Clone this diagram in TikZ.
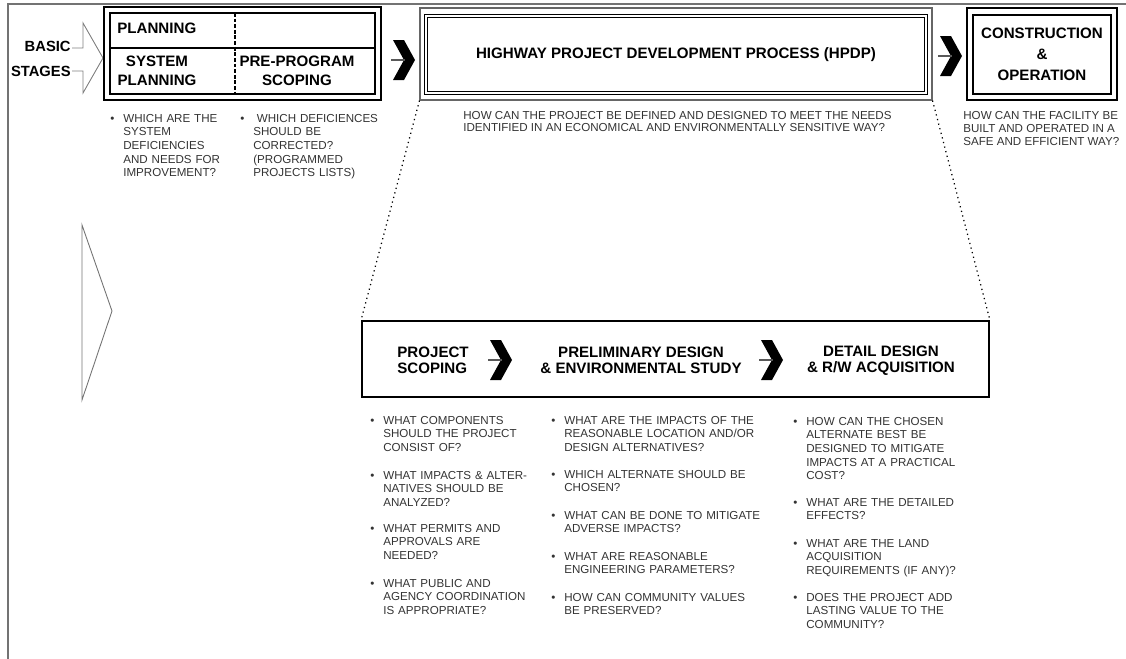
\documentclass[tikz,border=0pt]{standalone}
\usepackage{fontspec}
\setmainfont{Liberation Sans}

\definecolor{qgray}{HTML}{333333}
\definecolor{fgray}{HTML}{7A7A7A}

\newcommand\headfont{\fontsize{8.6}{10.8}\selectfont\bfseries}
\newcommand\stagefont{\fontsize{8.6}{9.1}\selectfont\bfseries}
\newcommand\qfont{\fontsize{6.6}{7.7}\selectfont}
\newcommand\subfont{\fontsize{6.6}{6.9}\selectfont}
\newcommand\qmark{\makebox[7.4pt][l]{\textbullet}}

\tikzset{
	frame/.style={draw=black!55, line width=1pt},
	head/.style={font=\headfont, align=center, inner sep=0pt},
	stage/.style={font=\stagefont, align=center, inner sep=0pt},
	sub/.style={font=\subfont, text=qgray, align=left, anchor=north west, inner sep=0pt},
	qitem/.style={anchor=north west, inner sep=0pt, text width=4.6cm, align=left,
		font=\qfont, text=qgray,
		execute at begin node={\hangindent=7.4pt\hangafter=1\qmark}},
	chev/.pic={
		\fill (-11,-20) -- (0,-20) -- (11,0) -- (0,20) -- (-11,20) -- (0,0) -- cycle;
		\draw[black!65, line width=0.6pt] (-13,0) -- (1,0);
	}
}

\begin{document}
\begin{tikzpicture}[x=0.02cm, y=-0.02cm]
	\useasboundingbox (0,0) rectangle (1126,659);

	% frame
	\draw[frame] (8,659) -- (8,4) -- (1126,4);

	% basic stages
	\node[font=\fontsize{8.4}{9.4}\selectfont\bfseries, align=right, anchor=east, inner sep=0pt] (basic) at (71,59) {BASIC\\[5pt]STAGES};
	\draw[black!50, line width=0.5pt] (72,48) -- (83,48) -- (83,23) -- (103,58) -- (83,93) -- (83,71) -- (72,71);

	% planning
	\node[draw, line width=1.4pt, minimum width=5.54cm, minimum height=1.86cm] (plan) at (242.5,53.5) {};
	\node[draw, line width=1pt, minimum width=5.3cm, minimum height=1.62cm] (planin) at (242.5,53.5) {};
	\draw[line width=0.9pt] (110,48) -- (375,48);
	\draw[line width=0.9pt, dash pattern=on 2.2pt off 1pt] (235,13) -- (235,94);
	\node[head, anchor=west] (plnhead) at (117,28) {PLANNING};
	\node[head] (sysplan) at (157,70.5) {SYSTEM\\PLANNING};
	\node[head] (prescop) at (297,70.5) {PRE-PROGRAM\\SCOPING};

	\node[qitem] (qsys) at (110,114) {WHICH ARE THE\newline SYSTEM\newline DEFICIENCIES\newline AND NEEDS FOR\newline IMPROVEMENT?};
	\node[qitem] (qpre) at (240,114) {\hspace{2pt}WHICH DEFICIENCES\newline SHOULD BE\newline CORRECTED?\newline (PROGRAMMED\newline PROJECTS LISTS)};

	\pic at (404,60) {chev};

	% hpdp
	\node[draw=black!60, line width=0.7pt, minimum width=10.24cm, minimum height=1.84cm] (hpdp) at (676,54) {};
	\node[draw, double, double distance=1.1pt, line width=0.5pt, minimum width=10cm, minimum height=1.54cm] (hpdpin) at (676,54.5) {};
	\node[head] (hpdptxt) at (676,55) {HIGHWAY PROJECT DEVELOPMENT PROCESS (HPDP)};
	\node[sub] (hpdpq) at (463,111) {HOW CAN THE PROJECT BE DEFINED AND DESIGNED TO MEET THE NEEDS\\IDENTIFIED IN AN ECONOMICAL AND ENVIRONMENTALLY SENSITIVE WAY?};

	\pic at (951,56) {chev};

	% construction
	\node[draw, line width=1.1pt, minimum width=3cm, minimum height=1.84cm] (cons) at (1042,54) {};
	\node[draw, line width=1.2pt, minimum width=2.76cm, minimum height=1.58cm] (consin) at (1042,54.5) {};
	\node[head] (constxt) at (1042,54) {CONSTRUCTION\\[1.1pt]\&\\[1.1pt]OPERATION};
	\node[sub, font=\fontsize{6.6}{7.4}\selectfont] (consq) at (963,111) {HOW CAN THE FACILITY BE\\BUILT AND OPERATED IN A\\SAFE AND EFFICIENT WAY?};

	% left marker
	\draw[black!55, line width=0.5pt] (82,225) -- (112,311) -- (82,400) -- cycle;

	% hpdp stages
	\node[draw, line width=1.1pt, minimum width=12.54cm, minimum height=1.52cm] (pdbox) at (675.5,359) {};
	\draw[dotted, line width=0.7pt] (hpdp.south west) -- (pdbox.north west);
	\draw[dotted, line width=0.7pt] (hpdp.south east) -- (pdbox.north east);

	\node[stage, align=left, anchor=west] (scop) at (397,360) {PROJECT\\SCOPING};
	\node[stage] (prel) at (641,360) {PRELIMINARY DESIGN\\\& ENVIRONMENTAL STUDY};
	\node[stage] (detl) at (881,361) {DETAIL DESIGN\\\& R/W ACQUISITION};
	\pic at (501,360) {chev};
	\pic at (772,360) {chev};

	% questions
	\node[qitem] (qs1) at (370,416) {WHAT COMPONENTS\newline SHOULD THE PROJECT\newline CONSIST OF?};
	\node[qitem] (qs2) at (370,471) {WHAT IMPACTS \& ALTER-\newline NATIVES SHOULD BE\newline ANALYZED?};
	\node[qitem] (qs3) at (370,524) {WHAT PERMITS AND\newline APPROVALS ARE\newline NEEDED?};
	\node[qitem] (qs4) at (370,579) {WHAT PUBLIC AND\newline AGENCY COORDINATION\newline IS APPROPRIATE?};

	\node[qitem] (qp1) at (551,416) {WHAT ARE THE IMPACTS OF THE\newline REASONABLE LOCATION AND/OR\newline DESIGN ALTERNATIVES?};
	\node[qitem] (qp2) at (551,470) {WHICH ALTERNATE SHOULD BE\newline CHOSEN?};
	\node[qitem] (qp3) at (551,511) {WHAT CAN BE DONE TO MITIGATE\newline ADVERSE IMPACTS?};
	\node[qitem] (qp4) at (551,552) {WHAT ARE REASONABLE\newline ENGINEERING PARAMETERS?};
	\node[qitem] (qp5) at (551,593) {HOW CAN COMMUNITY VALUES\newline BE PRESERVED?};

	\node[qitem] (qd1) at (793,417) {HOW CAN THE CHOSEN\newline ALTERNATE BEST BE\newline DESIGNED TO MITIGATE\newline IMPACTS AT A PRACTICAL\newline COST?};
	\node[qitem] (qd2) at (793,498) {WHAT ARE THE DETAILED\newline EFFECTS?};
	\node[qitem] (qd3) at (793,539) {WHAT ARE THE LAND\newline ACQUISITION\newline REQUIREMENTS (IF ANY)?};
	\node[qitem] (qd4) at (793,593) {DOES THE PROJECT ADD\newline LASTING VALUE TO THE\newline COMMUNITY?};
\end{tikzpicture}
\end{document}
